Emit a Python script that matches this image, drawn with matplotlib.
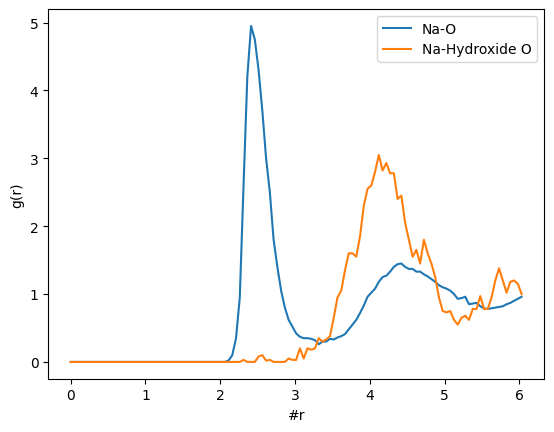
import numpy as np
import matplotlib
matplotlib.use("Agg")
import matplotlib.pyplot as plt

r = np.round(np.arange(121) * 0.05025, 4)

na_o_tail = [  # index 41 .. 120
    0.0, 0.02, 0.1, 0.35, 0.95, 2.6, 4.2, 4.95, 4.75, 4.3,
    3.7, 3.0, 2.5, 1.8, 1.4, 1.05, 0.8, 0.62, 0.52, 0.42,
    0.37, 0.35, 0.35, 0.34, 0.32, 0.26, 0.3, 0.3, 0.34, 0.33,
    0.36, 0.38, 0.41, 0.48, 0.55, 0.62, 0.72, 0.83, 0.96, 1.02,
    1.08, 1.18, 1.25, 1.27, 1.33, 1.4, 1.44, 1.45, 1.4, 1.37,
    1.37, 1.33, 1.33, 1.29, 1.26, 1.22, 1.18, 1.13, 1.1, 1.08,
    1.05, 1.0, 0.93, 0.94, 0.96, 0.85, 0.86, 0.87, 0.82, 0.79,
    0.78, 0.79, 0.8, 0.81, 0.82, 0.85, 0.87, 0.9, 0.93, 0.96,
]
na_o = [0.0] * (121 - len(na_o_tail)) + na_o_tail

na_oh_tail = [  # index 45 .. 120
    0.0, 0.03, 0.0, 0.0, 0.0, 0.08, 0.1, 0.02, 0.03, 0.0,
    0.0, 0.0, 0.0, 0.05, 0.03, 0.03, 0.2, 0.05, 0.2, 0.18,
    0.2, 0.35, 0.3, 0.33, 0.38, 0.65, 0.95, 1.05, 1.35, 1.6,
    1.6, 1.55, 1.85, 2.3, 2.55, 2.6, 2.8, 3.05, 2.82, 2.93,
    2.78, 2.78, 2.4, 2.45, 2.05, 1.8, 1.55, 1.65, 1.45, 1.8,
    1.6, 1.45, 1.25, 0.95, 0.75, 0.73, 0.75, 0.62, 0.55, 0.65,
    0.68, 0.62, 0.78, 0.78, 0.97, 0.78, 0.78, 0.95, 1.2, 1.38,
    1.2, 1.02, 1.18, 1.2, 1.15, 1.0,
]
na_oh = [0.0] * (121 - len(na_oh_tail)) + na_oh_tail

fig, ax = plt.subplots(figsize=(6.4, 4.8), dpi=100)
ax.plot(r, na_o, label="Na-O")
ax.plot(r, na_oh, label="Na-Hydroxide O")
ax.set_xlabel("#r")
ax.set_ylabel("g(r)")
ax.legend()
fig.savefig("out.png", dpi=100, bbox_inches="tight")
